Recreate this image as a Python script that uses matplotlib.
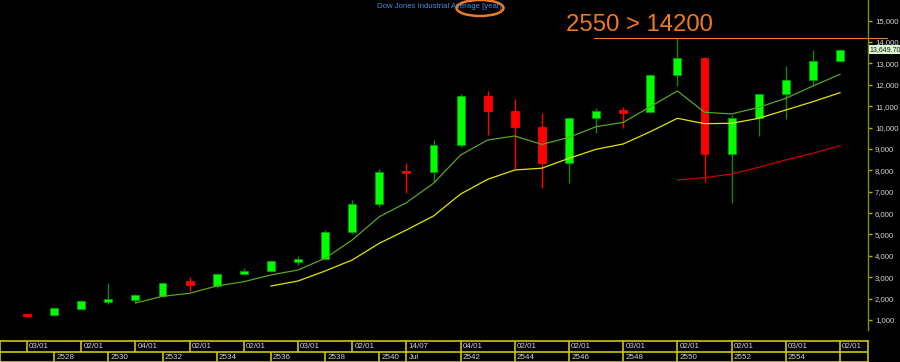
import matplotlib
matplotlib.use("Agg")
import matplotlib.pyplot as plt
from matplotlib.patches import Rectangle, Ellipse
from matplotlib.ticker import FixedLocator, FuncFormatter

# ---------------- data (yearly bars, Thai years 2527 .. 2556) ----------------
opens  = [1252, 1212, 1537, 1897, 1950, 2144, 2810, 2610, 3172, 3301, 3754, 3834, 5117, 6448, 7950,
          7908, 9181, 11497, 10790, 10021, 8341, 10453, 10783, 10718, 12463, 13262, 8772, 10428,
          11577, 12217, 13104]
highs  = [1287, 1553, 1955, 2730, 2200, 2791, 3010, 3185, 3413, 3794, 3978, 5216, 6600, 8050, 8330,
          9420, 11560, 11730, 11320, 10670, 10462, 10900, 10950, 12511, 14200, 13279, 10590, 11585,
          12880, 13650, 13661]
lows   = [1130, 1185, 1502, 1738, 1842, 2094, 2356, 2480, 3136, 3242, 3593, 3832, 5000, 6300, 6950,
          7468, 9076, 9653, 8048, 7188, 7422, 9732, 10000, 10667, 11944, 7468, 6458, 9606, 10386,
          11990, 13086]
closes = [1211, 1547, 1896, 1939, 2169, 2753, 2634, 3169, 3301, 3754, 3834, 5117, 6448, 7908, 7880,
          9181, 11497, 10787, 10021, 8341, 10453, 10783, 10718, 12463, 13265, 8776, 10428, 11578,
          12217, 13104, 13650]

ma_fast_start = 4
ma_fast = [1795, 2108, 2249, 2590, 2791, 3105, 3339, 3885, 4742, 5831, 6486, 7393, 8717, 9419,
           9606, 9210, 9545, 10042, 10242, 10978, 11711, 10714, 10635, 10947, 11368, 11944, 12491]
ma_mid_start = 9
ma_mid = [2590, 2824, 3292, 3806, 4587, 5209, 5864, 6893, 7580, 8016, 8100, 8563, 8984, 9232,
          9807, 10433, 10183, 10199, 10433, 10822, 11210, 11631]
ma_slow_start = 24
ma_slow = [7548, 7655, 7828, 8141, 8483, 8796, 9152]

row1_idx = [0, 2, 4, 6, 8, 10, 12, 14, 16, 18, 20, 22, 24, 26, 28, 30]
row1_lab = ["03/01", "02/01", "04/01", "02/01", "02/01", "03/01", "02/01", "14/07",
            "04/01", "02/01", "02/01", "03/01", "02/01", "02/01", "03/01", "02/01"]
row2_idx = [1, 3, 5, 7, 9, 11, 13, 14, 16, 18, 20, 22, 24, 26, 28, 30]
row2_lab = ["2528", "2530", "2532", "2534", "2536", "2538", "2540", "Jul",
            "2542", "2544", "2546", "2548", "2550", "2552", "2554", ""]

y_ticks = list(range(1000, 16000, 1000))
last_price = 13649.70
mark_level = 14200
mark_text = "2550 > 14200"
title = "Dow Jones Industrial Average [year]"

# ---------------- style ----------------
W, H = 900, 362
FONT = "Liberation Sans"
GREEN, GREEN_EDGE, GREEN_WICK = "#00ff00", "#00a000", "#128a12"
RED = "#ff0000"
AX_YEL = "#b4b400"
TXT = "#d2d2d2"
ORANGE = "#f07a22"

fig = plt.figure(figsize=(W / 100, H / 100), dpi=100, facecolor="black")

# main price panel
ax = fig.add_axes([0, 32 / H, 868 / W, 330 / H], facecolor="black")
xmin, xmax = -27 / 27.1, (868 - 27) / 27.1
ax.set_xlim(xmin, xmax)
ax.set_ylim(532, 15966)

bw = 0.29
min_body = 120
for i, (o, h, l, c) in enumerate(zip(opens, highs, lows, closes)):
    up = c >= o
    wick = GREEN_WICK if up else RED
    ax.vlines(i, l, h, color=wick, lw=1, zorder=2)
    lo, hi = min(o, c), max(o, c)
    if hi - lo < min_body:
        mid = (hi + lo) / 2
        lo, hi = mid - min_body / 2, mid + min_body / 2
    ax.add_patch(Rectangle((i - bw / 2, lo), bw, hi - lo,
                           facecolor=GREEN if up else RED,
                           edgecolor=GREEN_EDGE if up else RED, lw=0.6, zorder=3))

ax.plot(range(ma_fast_start, ma_fast_start + len(ma_fast)), ma_fast, color="#5aa51e", lw=0.9, zorder=4)
ax.plot(range(ma_mid_start, ma_mid_start + len(ma_mid)), ma_mid, color="#e4e400", lw=0.9, zorder=4)
ax.plot(range(ma_slow_start, ma_slow_start + len(ma_slow)), ma_slow, color="#c80000", lw=0.9, zorder=4)

# highlight level + note
ax.plot([20.92, 31.73], [mark_level, mark_level], color=ORANGE, lw=0.8, clip_on=False, zorder=5)
ax.text(566 / 868 * (xmax - xmin) + xmin, 14800, mark_text, color=ORANGE,
        fontsize=17.2, family=FONT, va="center", ha="left")

for s in ["top", "left", "bottom"]:
    ax.spines[s].set_visible(False)
ax.spines["right"].set_color("#8c8c00")
ax.spines["right"].set_linewidth(1)
ax.set_xticks([])
ax.yaxis.tick_right()
ax.yaxis.set_major_locator(FixedLocator(y_ticks))
ax.yaxis.set_major_formatter(FuncFormatter(lambda v, p: f"{int(v):,}"))
ax.tick_params(axis="y", colors=AX_YEL, length=3, width=1, pad=2, labelsize=5.6)
for t in ax.get_yticklabels():
    t.set_color(TXT)
    t.set_family(FONT)

# last price tag
ax.text(1.002, last_price, f"{last_price:,.2f}", transform=ax.get_yaxis_transform(),
        fontsize=5.0, family=FONT, color="#1a1a1a", va="center", ha="left",
        bbox=dict(boxstyle="square,pad=0.12", fc="#d6f5cc", ec="none"), clip_on=False, zorder=6)

# date band
bx = fig.add_axes([0, 0, 868 / W, 21 / H], facecolor="black")
bx.set_xlim(xmin, xmax)
bx.set_ylim(0, 2)
bx.set_xticks([]); bx.set_yticks([])
for s in bx.spines.values():
    s.set_color("#c8c800"); s.set_linewidth(1.2)
bx.axhline(1, color="#c8c800", lw=1.2)
for i, lab in zip(row1_idx, row1_lab):
    bx.vlines(i, 1, 2, color="#c8c800", lw=1.2)
    bx.text(i + 0.08, 1.5, lab, color=TXT, fontsize=5.8, family=FONT, va="center", ha="left")
for i, lab in zip(row2_idx, row2_lab):
    bx.vlines(i, 0, 1, color="#c8c800", lw=1.2)
    bx.text(i + 0.08, 0.45, lab, color=TXT, fontsize=5.8, family=FONT, va="center", ha="left")

# title + circled "[year]"
fig.text(377 / W, 1 - 6 / H, title, color="#3f8fe8", fontsize=5.6, family=FONT,
         va="center", ha="left")
fig.patches.append(Ellipse((480 / W, 1 - 8 / H), 47 / W, 16 / H, transform=fig.transFigure,
                           fill=False, ec=ORANGE, lw=1.8))

fig.savefig("out.png", dpi=100, facecolor="black")
